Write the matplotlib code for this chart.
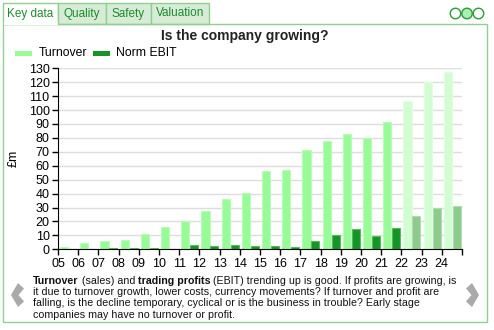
import numpy as np
import matplotlib.pyplot as plt
from matplotlib.patches import Rectangle, Ellipse, Polygon

plt.rcParams['font.family'] = ['Liberation Sans', 'DejaVu Sans']

years = ['05', '06', '07', '08', '09', '10', '11', '12', '13', '14',
         '15', '16', '17', '18', '19', '20', '21', '22', '23', '24']
turnover = [1.7, 4.8, 6.0, 6.7, 11.0, 15.8, 20.6, 27.8, 36.0, 40.7,
            56.3, 57.0, 71.3, 77.8, 82.6, 80.0, 91.5, 106.8, 120.2, 127.4]
norm_ebit = [0.0, 0.0, 1.0, 1.0, 1.0, 0.3, 2.9, 2.4, 3.1, 2.4,
             2.2, 1.7, 5.7, 10.5, 14.4, 9.8, 15.3, 24.2, 29.7, 31.4]
forecast_from = 17  # 22 onwards are forecasts

W, H = 494, 330
fig = plt.figure(figsize=(W / 100, H / 100), dpi=100)


def fx(x):
    return x / W


def fy(y):
    return 1 - y / H


green_txt = '#1e8a2c'
border = '#8fd08f'

# tabs
tabs = [('Key data', 3, 58), ('Quality', 58, 106), ('Safety', 106, 151), ('Valuation', 151, 209)]
for i, (name, x0, x1) in enumerate(tabs):
    fc = 'white' if i == 0 else '#d6ecd6'
    fig.add_artist(Rectangle((fx(x0), fy(24)), fx(x1) - fx(x0), fy(3) - fy(24),
                             transform=fig.transFigure, facecolor=fc,
                             edgecolor=border, linewidth=1))
    fig.text(fx((x0 + x1) / 2), fy(13.5), name, ha='center', va='center',
             color=green_txt, fontsize=8.5)

# frame
fig.add_artist(Rectangle((fx(2.5), fy(321.5)), fx(484), fy(24) - fy(321.5),
                         transform=fig.transFigure, facecolor='none',
                         edgecolor=border, linewidth=1))
fig.add_artist(Rectangle((fx(3.5), fy(25)), fx(54), fy(22.5) - fy(25),
                         transform=fig.transFigure, facecolor='white',
                         edgecolor='none'))

# circles top right
for i, cx in enumerate([455.5, 467, 478.5]):
    fig.add_artist(Ellipse((fx(cx), fy(13.5)), 10.5 / W, 10.5 / H, transform=fig.transFigure,
                           facecolor='#a8efb4' if i == 1 else 'white',
                           edgecolor='#2a9a3a', linewidth=1))

# title and legend
fig.text(fx(245), fy(36), 'Is the company growing?', ha='center', va='center',
         fontsize=10, fontweight='bold', color='#222222')
fig.add_artist(Rectangle((fx(15), fy(55.5)), fx(17), fy(50.5) - fy(55.5),
                         transform=fig.transFigure, facecolor='#98fb98', edgecolor='none'))
fig.text(fx(39), fy(53.5), 'Turnover', va='center', fontsize=8.8)
fig.add_artist(Rectangle((fx(93), fy(55.5)), fx(17), fy(50.5) - fy(55.5),
                         transform=fig.transFigure, facecolor='#139626', edgecolor='none'))
fig.text(fx(116), fy(53.5), 'Norm EBIT', va='center', fontsize=8.8)

# chart
ax = fig.add_axes([fx(58), fy(249.3), fx(462) - fx(58), fy(68.3) - fy(249.3)])
x = np.arange(len(years))
t_col = ['#98fb98' if i < forecast_from else '#d2fdd2' for i in x]
t_edge = ['#b8fcb8' if i < forecast_from else '#e2fde2' for i in x]
e_col = ['#139626' if i < forecast_from else '#8dcb8d' for i in x]
e_edge = ['#5cb85c' if i < forecast_from else '#b0dcb0' for i in x]
ax.bar(x + 0.1, turnover, width=0.4, align='edge', color=t_col,
       edgecolor=t_edge, linewidth=0.8, zorder=2)
ax.bar(x + 0.54, norm_ebit, width=0.4, align='edge', color=e_col,
       edgecolor=e_edge, linewidth=0.8, zorder=2)

ax.set_xlim(0, len(years))
ax.set_ylim(0, 130)
ax.set_yticks(np.arange(0, 131, 10))
ax.set_xticks(np.arange(len(years) + 1))
ax.set_xticklabels(years + [''])
ax.grid(axis='y', color='#dddddd', linewidth=1, zorder=0)
ax.set_axisbelow(True)
for s in ['top', 'right']:
    ax.spines[s].set_visible(False)
ax.tick_params(labelsize=9, length=4, width=1, pad=2)
ax.set_ylabel('£m', fontsize=9)
ax.yaxis.set_label_coords(-0.095, 0.5)

# description text
lines = [
    [('Turnover', 'bold'), (' (sales) and ', 'normal'), ('trading profits', 'bold'),
     (' (EBIT) trending up is good. If profits are growing, is', 'normal')],
    [('it due to turnover growth, lower costs, currency movements? If turnover and profit are', 'normal')],
    [('falling, is the decline temporary, cyclical or is the business in trouble? Early stage', 'normal')],
    [('companies may have no turnover or profit.', 'normal')],
]
fig.canvas.draw()
r = fig.canvas.get_renderer()
for li, parts in enumerate(lines):
    xp = 33
    for txt, wgt in parts:
        t = fig.text(fx(xp), fy(280.5 + li * 11.4), txt, fontsize=7.65, fontweight=wgt,
                     va='center', color='#111111')
        xp += t.get_window_extent(renderer=r).width

# arrows
fig.add_artist(Polygon([(fx(11), fy(295)), (fx(18), fy(283)), (fx(24), fy(288.5)),
                        (fx(18.5), fy(295)), (fx(24), fy(301.5)), (fx(18), fy(307))],
                       closed=True, transform=fig.transFigure, facecolor='#aaaaaa', edgecolor='none'))
fig.add_artist(Polygon([(fx(479), fy(295)), (fx(472), fy(283)), (fx(466), fy(288.5)),
                        (fx(471.5), fy(295)), (fx(466), fy(301.5)), (fx(472), fy(307))],
                       closed=True, transform=fig.transFigure, facecolor='#aaaaaa', edgecolor='none'))

fig.savefig('out.png', dpi=100)
